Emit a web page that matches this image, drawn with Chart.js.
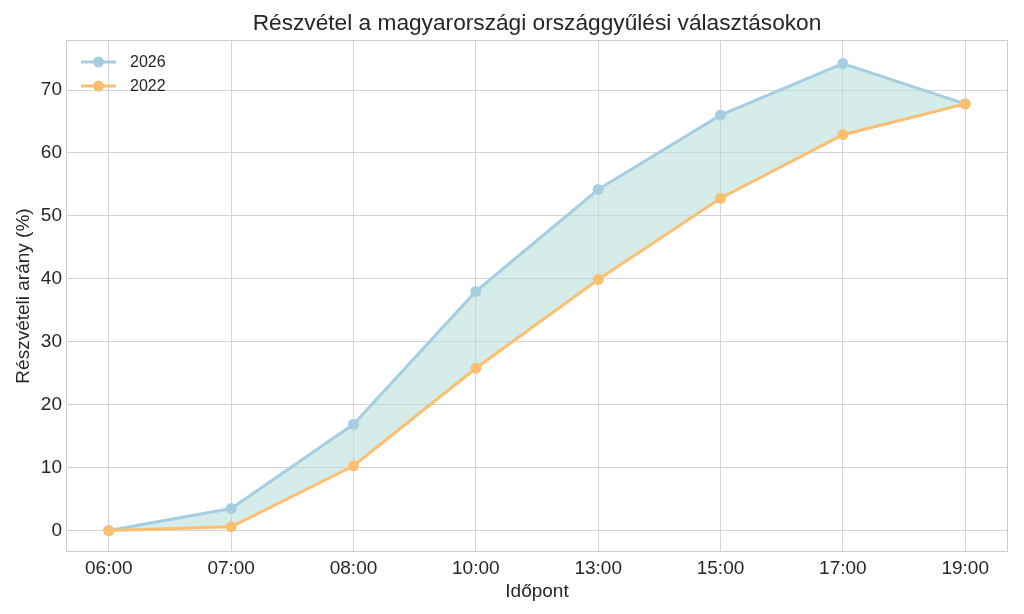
<!DOCTYPE html>
<html>
<head>
<meta charset="utf-8">
<script src="https://cdn.jsdelivr.net/npm/chart.js@4/dist/chart.umd.min.js"></script>
<style>
  html, body { margin: 0; padding: 0; background: #fff; }
  #wrap { width: 1024px; height: 614px; }
</style>
</head>
<body>
<div id="wrap"><canvas id="turnoutChart" width="1024" height="614"></canvas></div>
<script>
const times = ["06:00", "07:00", "08:00", "10:00", "13:00", "15:00", "17:00", "19:00"];
const turnout2026 = [0, 3.5, 16.9, 38.0, 54.2, 66.0, 74.2, 67.8];
const turnout2022 = [0, 0.6, 10.3, 25.8, 39.9, 52.8, 62.9, 67.8];
const yTicks = [0, 10, 20, 30, 40, 50, 60, 70];
const chartTitle = 'Részvétel a magyarországi országgyűlési választásokon';

const blue = '#a6cee3';
const orange = '#fdbf6f';
const gridColor = '#d4d4d4';
const textColor = '#262626';
const font = "'Liberation Sans', Arial, sans-serif";

// title centred over the plot, frame round the plot, legend in the top-left corner
const framePlugin = {
    id: 'frame',
    afterDraw(chart) {
        const ctx = chart.ctx;
        const a = chart.chartArea;
        ctx.save();
        ctx.strokeStyle = '#cccccc';
        ctx.lineWidth = 1;
        ctx.strokeRect(a.left + 0.5, a.top + 0.5, a.right - a.left - 1, a.bottom - a.top - 1);

        ctx.fillStyle = textColor;
        ctx.font = "22.7px " + font;
        ctx.textAlign = 'center';
        ctx.textBaseline = 'middle';
        ctx.fillText(chartTitle, (a.left + a.right) / 2, 24);

        ctx.textAlign = 'left';
        const items = [{ label: '2026', color: blue }, { label: '2022', color: orange }];
        items.forEach((it, i) => {
            const y = a.top + 22 + i * 24;
            const x0 = a.left + 15;
            ctx.strokeStyle = it.color;
            ctx.lineWidth = 3;
            ctx.beginPath();
            ctx.moveTo(x0, y);
            ctx.lineTo(x0 + 35, y);
            ctx.stroke();
            ctx.fillStyle = it.color;
            ctx.beginPath();
            ctx.arc(x0 + 17.5, y, 5.5, 0, Math.PI * 2);
            ctx.fill();
            ctx.fillStyle = textColor;
            ctx.font = "16px " + font;
            ctx.fillText(it.label, x0 + 49, y + 1);
        });
        ctx.restore();
    }
};

const pts = arr => arr.map((v, i) => ({ x: i, y: v }));

new Chart(document.getElementById("turnoutChart"), {
    type: 'line',
    data: {
        datasets: [
            {
                label: '2026',
                data: pts(turnout2026),
                order: 2,
                borderColor: blue,
                backgroundColor: blue,
                pointBackgroundColor: blue,
                pointBorderWidth: 0,
                pointRadius: 5.5,
                borderWidth: 3,
                tension: 0,
                fill: { target: 1, above: 'rgba(178, 220, 215, 0.55)', below: 'rgba(178, 220, 215, 0.55)' }
            },
            {
                label: '2022',
                data: pts(turnout2022),
                order: 1,
                borderColor: orange,
                backgroundColor: orange,
                pointBackgroundColor: orange,
                pointBorderWidth: 0,
                pointRadius: 5.5,
                borderWidth: 3,
                tension: 0,
                fill: false
            }
        ]
    },
    options: {
        responsive: false,
        animation: false,
        layout: { padding: { left: 0, right: 16, top: 40, bottom: 0 } },
        plugins: {
            legend: { display: false },
            tooltip: { enabled: false },
            title: { display: false }
        },
        scales: {
            x: {
                type: 'linear',
                min: -0.35,
                max: 7.35,
                afterBuildTicks: s => { s.ticks = times.map((t, i) => ({ value: i })); },
                afterFit: s => { s.height = 62; },
                grid: { color: gridColor, drawTicks: false },
                border: { display: false },
                ticks: {
                    callback: v => times[v],
                    color: textColor,
                    padding: 5,
                    maxRotation: 0,
                    font: { family: font, size: 19 }
                },
                title: {
                    display: true,
                    text: 'Időpont',
                    color: textColor,
                    padding: { top: 2, bottom: 11 },
                    font: { family: font, size: 19 }
                }
            },
            y: {
                min: -3.4,
                max: 77.95,
                afterBuildTicks: s => { s.ticks = yTicks.map(v => ({ value: v })); },
                afterFit: s => { s.width = 66; },
                grid: { color: gridColor, drawTicks: false },
                border: { display: false },
                ticks: {
                    color: textColor,
                    padding: 4,
                    font: { family: font, size: 19 }
                },
                title: {
                    display: true,
                    text: 'Részvételi arány (%)',
                    color: textColor,
                    padding: { top: 12, bottom: 4 },
                    font: { family: font, size: 19 }
                }
            }
        }
    },
    plugins: [framePlugin]
});
</script>
</body>
</html>
